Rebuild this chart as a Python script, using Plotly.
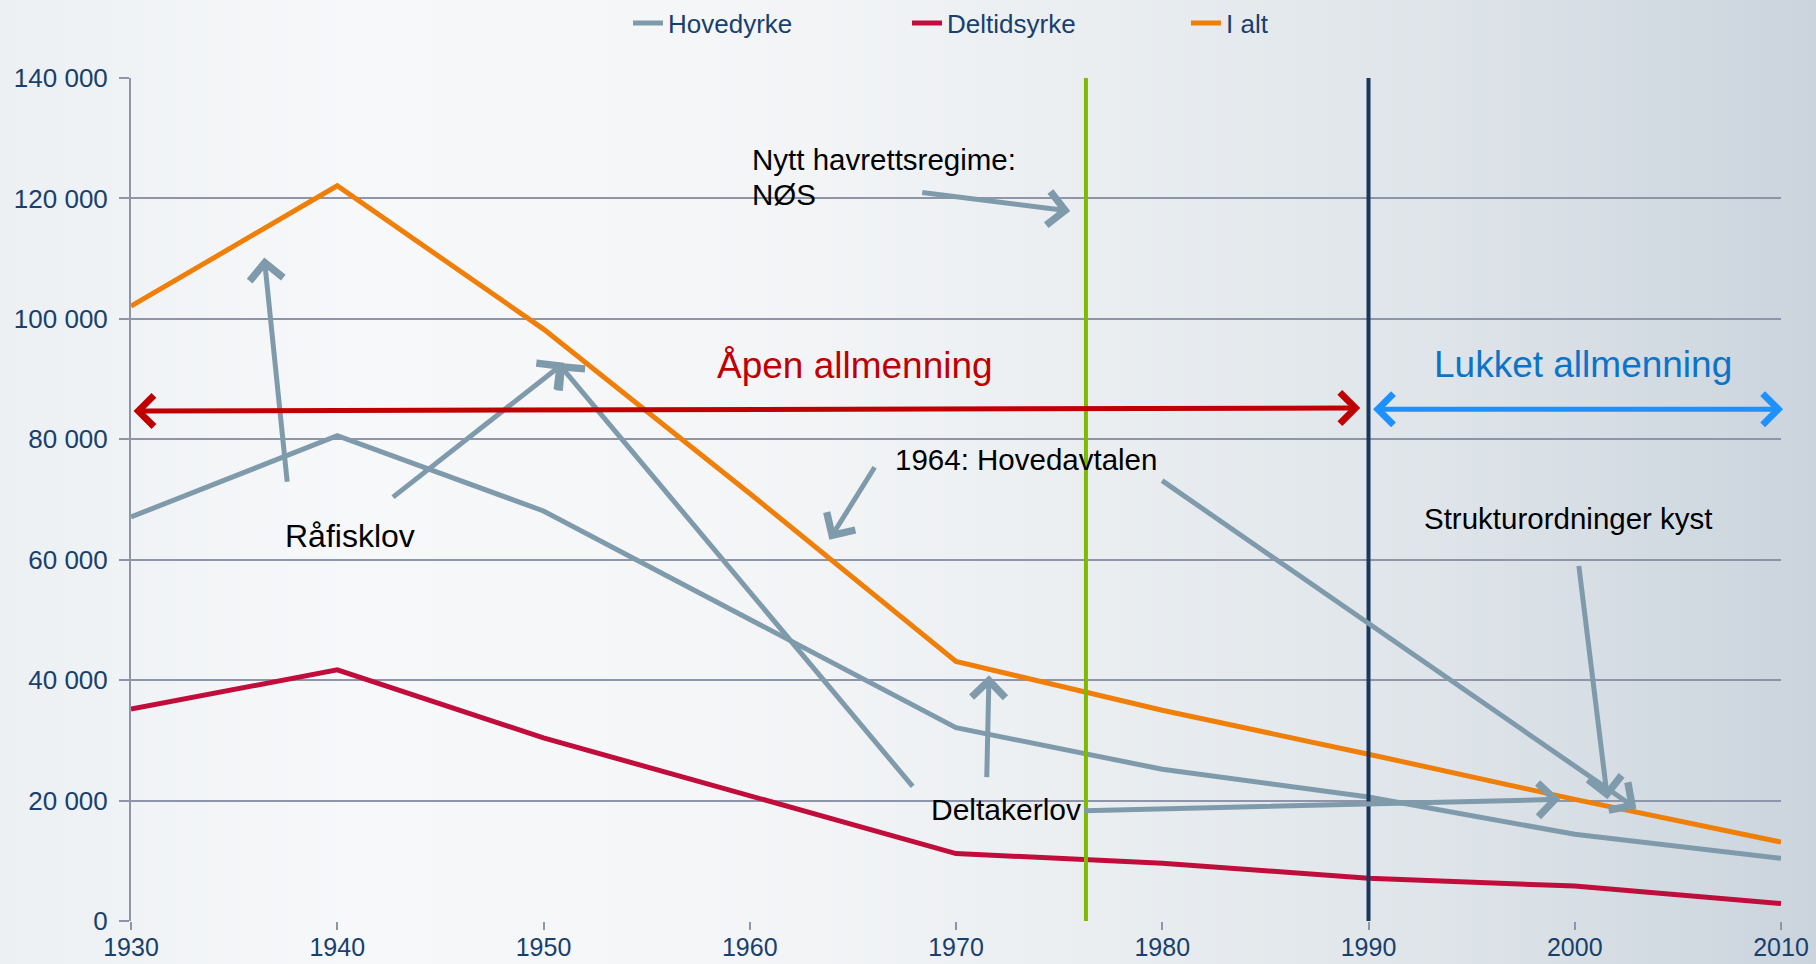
import plotly.graph_objects as go

years = [1930, 1940, 1950, 1960, 1970, 1980, 1990, 2000, 2010]
hovedyrke = [67100, 80600, 68100, 50000, 32100, 25200, 20600, 14400, 10400]
deltidsyrke = [35200, 41700, 30400, 20800, 11200, 9600, 7100, 5800, 2900]
i_alt = [102100, 122100, 98300, 71000, 43100, 35000, 27700, 20200, 13100]

series_names = ["Hovedyrke", "Deltidsyrke", "I alt"]
series_values = [hovedyrke, deltidsyrke, i_alt]
series_colors = ["#7f9bab", "#c00d3c", "#f07f09"]

y_ticks = [0, 20000, 40000, 60000, 80000, 100000, 120000, 140000]
y_tick_labels = ["0", "20 000", "40 000", "60 000", "80 000", "100 000", "120 000", "140 000"]

# event markers (year)
nos_year = 1976.3
closed_year = 1990

# text labels: (text, x, y, xanchor, size)
labels = [
    ("Nytt havrettsregime:", 1960.0, 126500, "left", 29.5),
    ("NØS", 1960.0, 120600, "left", 29.5),
    ("Råfisklov", 1940.6, 64000, "center", 32),
    ("1964: Hovedavtalen", 1966.95, 76700, "left", 29.5),
    ("Strukturordninger kyst", 1992.6, 66900, "left", 29.5),
    ("Deltakerlov", 1968.7, 18500, "left", 30),
]

# grey annotation arrows: (tail_x, tail_y, head_x, head_y)
arrows = [
    (1937.58, 72700, 1936.46, 110200),
    (1942.63, 70200, 1951.0, 92700),
    (1967.96, 22100, 1950.7, 92700),
    (1968.29, 121000, 1975.54, 117900),
    (1966.1, 75600, 1963.86, 63300),
    (1979.92, 73300, 2002.99, 18650),
    (2000.19, 59200, 2001.59, 20200),
    (1971.49, 23650, 1971.6, 40800),
    (1976.15, 18300, 1999.29, 20200),
]

fig = go.Figure()
for name, vals, col in zip(series_names, series_values, series_colors):
    fig.add_trace(go.Scatter(x=years, y=vals, name=name, mode="lines",
                             line=dict(color=col, width=5)))

# background gradient strips
W, H = 1816, 964
L, R, T, B = 131, 35, 78, 43
pw, ph = W - L - R, H - T - B
stops = [(0, (236, 240, 243)), (350, (247, 248, 250)), (700, (245, 246, 248)),
         (1100, (234, 238, 241)), (1450, (222, 228, 233)), (1816, (203, 212, 221))]

def col_at(px):
    for (a, ca), (b, cb) in zip(stops[:-1], stops[1:]):
        if a <= px <= b:
            t = (px - a) / (b - a)
            return tuple(int(round(ca[i] + (cb[i] - ca[i]) * t)) for i in range(3))
    return stops[-1][1]

shapes = []
step = 16
for px in range(0, W, step):
    c = col_at(px + step / 2)
    shapes.append(dict(type="rect", xref="paper", yref="paper", layer="below",
                       x0=(px - L) / pw, x1=(px + step + 1 - L) / pw,
                       y0=-B / ph - 0.01, y1=(H - B) / ph + 0.01,
                       line=dict(width=0), fillcolor="rgb(%d,%d,%d)" % c))

shapes.append(dict(type="line", xref="x", yref="y", x0=nos_year, x1=nos_year,
                   y0=0, y1=140000, line=dict(color="#7fba00", width=4)))
shapes.append(dict(type="line", xref="x", yref="y", x0=closed_year, x1=closed_year,
                   y0=0, y1=140000, line=dict(color="#17375e", width=4)))

annotations = []
for tx, ty, hx, hy in arrows:
    annotations.append(dict(x=hx, y=hy, ax=tx, ay=ty, xref="x", yref="y",
                            axref="x", ayref="y", text="", showarrow=True,
                            arrowhead=4, arrowsize=1.3, arrowwidth=5,
                            arrowcolor="#7f9bab", standoff=0, startstandoff=0))
for text, x, y, xa, sz in labels:
    annotations.append(dict(x=x, y=y, xref="x", yref="y", text=text, showarrow=False,
                            xanchor=xa, yanchor="middle", align="left",
                            font=dict(family="Liberation Sans, Arial", size=sz, color="#000000")))

# regime double arrows
annotations.append(dict(x=1989.6, y=85200, ax=1930.05, ay=84700, xref="x", yref="y",
                        axref="x", ayref="y", text="", showarrow=True,
                        arrowhead=4, startarrowhead=4, arrowside="end+start",
                        arrowsize=1.2, startarrowsize=1.2, arrowwidth=5,
                        arrowcolor="#c00000", standoff=0, startstandoff=0))
annotations.append(dict(x=2010.1, y=85000, ax=1990.15, ay=85000, xref="x", yref="y",
                        axref="x", ayref="y", text="", showarrow=True,
                        arrowhead=4, startarrowhead=4, arrowside="end+start",
                        arrowsize=1.2, startarrowsize=1.2, arrowwidth=5,
                        arrowcolor="#1e90ff", standoff=0, startstandoff=0))
annotations.append(dict(x=1965.1, y=92300, xref="x", yref="y", text="Åpen allmenning",
                        showarrow=False, xanchor="center", yanchor="middle",
                        font=dict(family="Liberation Sans, Arial", size=37, color="#c00000")))
annotations.append(dict(x=2000.4, y=92500, xref="x", yref="y", text="Lukket allmenning",
                        showarrow=False, xanchor="center", yanchor="middle",
                        font=dict(family="Liberation Sans, Arial", size=37, color="#0b74c8")))

fig.update_layout(
    width=W, height=H,
    margin=dict(l=L, r=R, t=T, b=B, autoexpand=False),
    paper_bgcolor="#eef1f4",
    plot_bgcolor="rgba(0,0,0,0)",
    font=dict(family="Liberation Sans, Arial", size=24, color="#1f497d"),
    shapes=shapes,
    annotations=annotations,
    showlegend=True,
    legend=dict(orientation="h", x=(628 - L) / pw, xanchor="left",
                y=(H - B - 23) / ph, yanchor="middle",
                bgcolor="rgba(0,0,0,0)", font=dict(size=26, color="#17406d"),
                entrywidth=234, entrywidthmode="pixels"),
    xaxis=dict(range=[1930, 2010], tickvals=years, ticktext=[str(y) for y in years],
               showgrid=False, zeroline=False, showline=False,
               ticks="outside", ticklen=8, tickwidth=2, tickcolor="#8f95a8",
               ticklabelstandoff=-4,
               tickfont=dict(size=25, color="#17406d")),
    yaxis=dict(range=[0, 140000], tickvals=y_ticks, ticktext=y_tick_labels,
               showgrid=True, gridcolor="#8f95a8", gridwidth=2, zeroline=False,
               showline=True, linecolor="#8f95a8", linewidth=2,
               ticks="outside", ticklen=10, tickwidth=2, tickcolor="#8f95a8",
               ticklabelstandoff=6,
               tickfont=dict(size=26, color="#17406d")),
)

fig.write_html("out.html", config={"displayModeBar": False},
               post_script="document.body.style.margin='0';")
